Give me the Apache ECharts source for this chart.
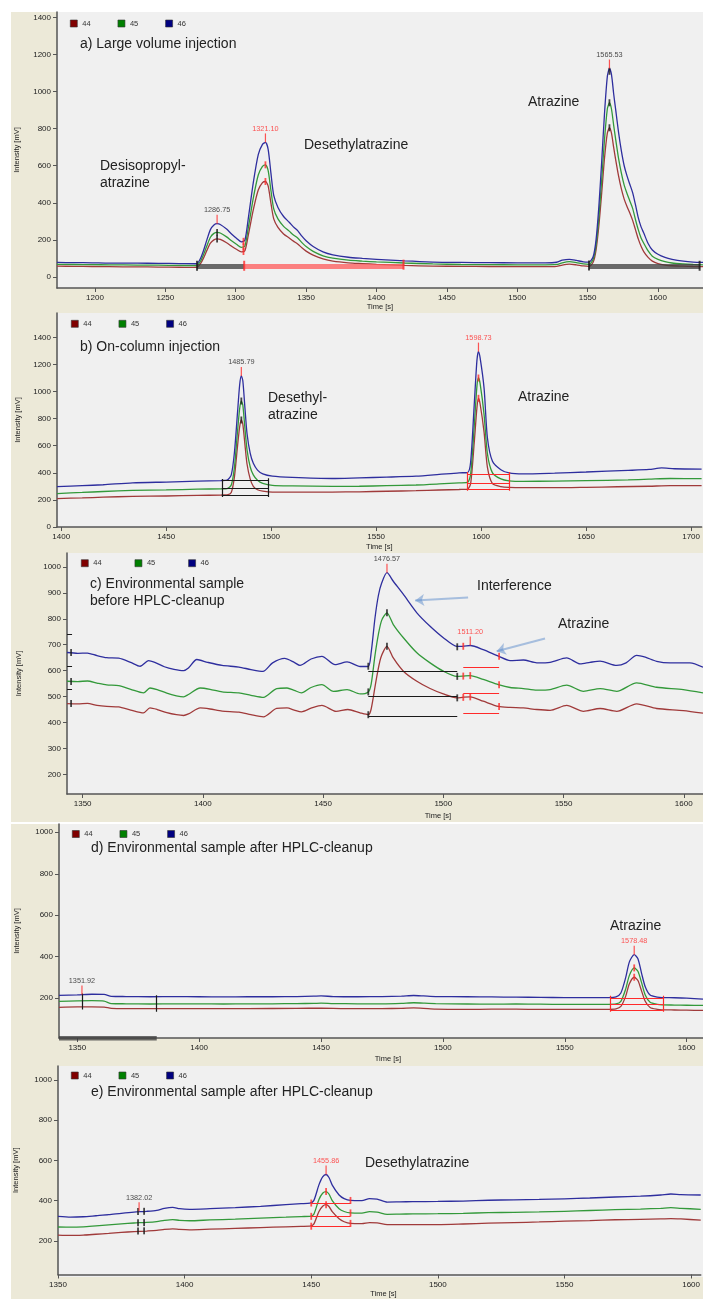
<!DOCTYPE html>
<html>
<head>
<meta charset="utf-8">
<script src="https://cdn.jsdelivr.net/npm/echarts@6/dist/echarts.min.js"></script>
<style>
html,body{margin:0;padding:0;background:#fff;}
#chart{width:703px;height:1299px;}
</style>
</head>
<body>
<div id="chart"></div>
<script>
// Ion traces m/z 44, 45, 46 (intensity in mV over retention time in s)
const channels = ['44', '45', '46'];

// ---- a) Large volume injection ----
const a46 = [[1173,78],[1185,77],[1198,76],[1210,74],[1230,74],[1245,73],[1260,72],[1270,71],[1272.5,72],[1275,100],[1277,140],[1279.5,200],[1282,255],[1284.5,280],[1286.75,287],[1289,283],[1293.5,258],[1297,232],[1300.5,209],[1304,189],[1306.5,198],[1309,320],[1312.5,510],[1316,660],[1319,715],[1321.1,726],[1323,690],[1325,560],[1327,440],[1330,375],[1334,326],[1338,295],[1341,270],[1344,250],[1347,220],[1350,195],[1355,164],[1362,135],[1369,119],[1380,106],[1390,100],[1400,95],[1420,86],[1440,80],[1460,78],[1480,77],[1500,76],[1520,76],[1528,79],[1532,90],[1537,95],[1542,89],[1547,81],[1551,80],[1554,110],[1556,200],[1558,380],[1560,620],[1562,880],[1564,1080],[1565.53,1125],[1567,1090],[1568.5,990],[1570,900],[1572,780],[1574,680],[1576,600],[1578,545],[1580,500],[1582,455],[1584,390],[1586,320],[1588,270],[1590,235],[1593,180],[1596,145],[1600,122],[1605,105],[1610,95],[1618,85],[1625,80],[1632,78]];
const a45 = [[1173,68],[1185,67],[1198,66],[1210,65],[1230,64],[1245,63],[1260,62],[1270,61],[1272.5,62],[1275,85],[1277,118],[1279.5,168],[1282,214],[1284.5,235],[1286.75,240],[1289,237],[1293.5,216],[1297,195],[1300.5,176],[1304,159],[1306.5,167],[1309,268],[1312.5,426],[1316,550],[1319,596],[1321.1,605],[1323,575],[1325,467],[1327,367],[1330,313],[1334,273],[1338,247],[1341,226],[1344,210],[1347,185],[1350,164],[1355,138],[1362,114],[1369,101],[1380,90],[1390,85],[1400,81],[1420,75],[1440,70],[1460,67],[1480,66],[1500,65],[1520,65],[1528,67],[1532,76],[1537,82],[1542,77],[1547,70],[1551,68],[1554,95],[1556,170],[1558,320],[1560,520],[1562,740],[1564,905],[1565.53,940],[1567,905],[1568.5,820],[1570,740],[1572,640],[1574,560],[1576,495],[1578,450],[1580,410],[1582,370],[1584,310],[1586,255],[1588,210],[1590,180],[1593,140],[1596,112],[1600,95],[1605,82],[1610,75],[1618,70],[1625,67],[1632,65]];
const a44 = [[1173,58],[1185,57],[1198,56],[1210,55],[1230,54],[1245,53],[1260,52],[1270,51],[1272.5,52],[1275,72],[1277,100],[1279.5,143],[1282,182],[1284.5,200],[1286.75,205],[1289,202],[1293.5,184],[1297,166],[1300.5,149],[1304,135],[1306.5,141],[1309,228],[1312.5,363],[1316,469],[1319,509],[1321.1,515],[1323,491],[1325,398],[1327,313],[1330,267],[1334,232],[1338,210],[1341,193],[1344,178],[1347,157],[1350,139],[1355,117],[1362,97],[1369,85],[1380,76],[1390,72],[1400,68],[1420,62],[1440,58],[1460,57],[1480,56],[1500,55],[1520,55],[1528,57],[1532,64],[1537,69],[1542,65],[1547,59],[1551,57],[1554,80],[1556,145],[1558,275],[1560,450],[1562,640],[1564,775],[1565.53,805],[1567,775],[1568.5,700],[1570,630],[1572,545],[1574,475],[1576,420],[1578,380],[1580,345],[1582,305],[1584,255],[1586,205],[1588,165],[1590,135],[1593,105],[1596,85],[1600,72],[1605,64],[1610,60],[1618,58],[1625,56],[1632,55]];
const aPeaks = [[1286.75,287],[1321.10,726],[1565.53,1125]];
const aBarsBlack = [[[1272.5,58],[1306,58]],[[1551,58],[1630,58]]];
const aBarsRed = [[[1306,58],[1419.2,58]]];
const aTicksBlack = [[1286.75,240],[1286.75,205],[1565.53,940],[1565.53,805],[1565.53,1110]];
const aTicksRed = [[1305.5,192],[1305.5,162],[1305.5,137],[1321.1,605],[1321.1,515]];
const aBaseBlack = [[1272.5,60],[1551,62],[1629.6,60]];
const aBaseRed = [[1306,60],[1419.2,66]];
const aTicksX = [1200,1250,1300,1350,1400,1450,1500,1550,1600];
const aTicksY = [0,200,400,600,800,1000,1200,1400];

// ---- b) On-column injection ----
const b46 = [[1398,298],[1410,305],[1420,312],[1434,326],[1450,332],[1465,338],[1476,343],[1479,346],[1481,385],[1482.5,550],[1484,850],[1485,1050],[1485.79,1115],[1486.5,1080],[1487.5,880],[1488.5,690],[1490,545],[1491.5,470],[1493.5,420],[1496,392],[1500.6,375],[1510,366],[1529,358],[1542,363],[1555,368],[1569,375],[1580,388],[1589.5,400],[1593.5,402],[1595,480],[1596.7,900],[1598,1230],[1598.73,1295],[1599.5,1250],[1601.4,1025],[1603,657],[1605.4,485],[1609.4,423],[1613.3,399],[1620,392],[1635,398],[1650,406],[1670,418],[1680,425],[1686,436],[1692,430],[1705,428]];
const b45 = [[1398,247],[1410,255],[1420,262],[1434,270],[1450,274],[1465,279],[1476,282],[1479,284],[1481,310],[1482.5,440],[1484,710],[1485,875],[1485.79,930],[1486.5,900],[1487.5,730],[1488.5,570],[1490,445],[1491.5,385],[1493.5,345],[1496,322],[1500.6,307],[1510,303],[1529,300],[1542,301],[1555,305],[1569,310],[1580,318],[1589.5,326],[1593.5,329],[1595,390],[1596.7,740],[1598,1040],[1598.73,1100],[1599.5,1060],[1601.4,830],[1603,540],[1605.4,400],[1609.4,355],[1613.3,341],[1620,337],[1635,339],[1650,342],[1670,348],[1680,353],[1690,358],[1705,357]];
const b44 = [[1398,210],[1410,215],[1420,220],[1434,226],[1450,229],[1465,233],[1476,236],[1479,238],[1481,255],[1482.5,370],[1484,600],[1485,740],[1485.79,790],[1486.5,760],[1487.5,610],[1488.5,465],[1490,355],[1491.5,300],[1493.5,275],[1496,265],[1500.6,258],[1510,258],[1529,258],[1542,260],[1555,264],[1569,268],[1580,273],[1589.5,277],[1593.5,280],[1595,320],[1596.7,620],[1598,880],[1598.73,950],[1599.5,910],[1601.4,700],[1603,440],[1605.4,320],[1609.4,298],[1613.3,292],[1620,290],[1635,290],[1650,293],[1665,297],[1680,301],[1690,305],[1705,305]];
const bPeaks = [[1485.79,1115],[1598.73,1295]];
const bSegBlack = [[[1476.5,343],[1498.7,343]],[[1476.5,284],[1498.7,284]],[[1476.5,234],[1498.7,234]],[[1476.5,222],[1476.5,355]],[[1498.7,222],[1498.7,360]]];
const bSegRed = [[[1593.5,392],[1613.3,392]],[[1593.5,320],[1613.3,320]],[[1593.5,281],[1613.3,281]],[[1593.5,268],[1593.5,406]],[[1613.3,268],[1613.3,406]]];
const bTicksBlack = [[1485.79,930],[1485.79,790]];
const bTicksRed = [[1598.73,1100],[1598.73,950]];
const bTicksX = [1400,1450,1500,1550,1600,1650,1700];
const bTicksY = [0,200,400,600,800,1000,1200,1400];

// ---- c) Environmental sample before HPLC-cleanup ----
const c46 = [[1343.5,670],[1348,667],[1352,668],[1356,658],[1360,650],[1365,648],[1370,632],[1373.9,617],[1377.4,639],[1380,632],[1384,615],[1388,605],[1392,600],[1394,610],[1397.5,643],[1402,632],[1408,620],[1415,614],[1420,604],[1425,597],[1429,630],[1434,647],[1438,632],[1440.4,620],[1445,645],[1449.5,655],[1455,623],[1460,634],[1465.4,616],[1468.8,616],[1470,670],[1471.6,804],[1473,890],[1474.4,939],[1476.57,978],[1479.2,945],[1483.4,894],[1489,823],[1494.5,771],[1500,727],[1505.6,694],[1508,694],[1511.2,697],[1516.6,681],[1522.9,656],[1527.8,639],[1533.3,641],[1538.9,630],[1544.4,632],[1551.3,649],[1556.9,626],[1561,632],[1565.2,637],[1572.1,620],[1576,630],[1580.4,659],[1584,652],[1588.7,636],[1594.3,630],[1602.6,630],[1608,613]];
const c45 = [[1343.5,559],[1348,558],[1352,560],[1356,552],[1360,545],[1365,542],[1370,528],[1375.3,514],[1378,533],[1381,527],[1385,513],[1389,503],[1392,499],[1394,508],[1398.9,533],[1403,528],[1408,518],[1415,514],[1420,505],[1425.2,497],[1430.7,531],[1435,533],[1438,524],[1441,514],[1445,535],[1449.5,546],[1454.3,520],[1460,527],[1465.4,510],[1468.8,518],[1470,548],[1471.6,660],[1473,740],[1474.4,795],[1476.57,823],[1479.2,778],[1483.4,727],[1489,669],[1494.5,630],[1500,598],[1505.6,578],[1508,579],[1511.2,581],[1516.6,566],[1522.9,546],[1527.8,535],[1533.3,531],[1538.9,525],[1544.4,527],[1551.3,544],[1558.3,520],[1565.2,531],[1572.1,520],[1580.4,553],[1588.7,536],[1599.8,527],[1608,514]];
const c44 = [[1343.5,473],[1348,472],[1352,474],[1356,466],[1360,462],[1365,460],[1370,448],[1375.3,437],[1378,456],[1381,450],[1385,438],[1389,430],[1392,427],[1394,433],[1398.9,456],[1403,452],[1408,444],[1415,440],[1420,430],[1425.2,422],[1430.7,454],[1435,456],[1438,448],[1441,441],[1445,455],[1449.5,466],[1455.4,443],[1460.3,450],[1465.4,437],[1468.8,430],[1470,452],[1472,560],[1474,650],[1476.57,694],[1479.2,649],[1483.4,598],[1489,559],[1494.5,531],[1500,510],[1505.6,495],[1508,497],[1511.2,499],[1516.6,482],[1522.9,462],[1527.8,458],[1533.3,456],[1538.9,450],[1544.4,447],[1551.3,466],[1558.3,443],[1565.2,454],[1572.1,443],[1580.4,472],[1588.7,454],[1599.8,446],[1608,436]];
const cPeaks = [[1476.57,978],[1511.20,697]];
const cSegBlack = [[[1468.8,596],[1505.8,596]],[[1468.8,500],[1505.8,500]],[[1468.8,424],[1505.8,424]],[[1343.5,742],[1345.6,742]],[[1343.5,617],[1345.6,617]],[[1343.5,527],[1345.6,527]]];
const cSegRed = [[[1508.3,613],[1523.2,613]],[[1508.3,514],[1523.2,514]],[[1508.3,437],[1523.2,437]]];
const cTicksBlack = [[1345.2,670],[1345.2,558],[1345.2,473],[1468.8,617],[1468.8,518],[1468.8,430],[1476.57,823],[1476.57,694],[1505.8,692],[1505.8,578],[1505.8,495]];
const cTicksRed = [[1508.3,694],[1508.3,579],[1508.3,497],[1511.2,581],[1511.2,499],[1523.2,656],[1523.2,546],[1523.2,462]];
const cArrows = [[[1510.3,882],[1488.3,871]],[[1542.3,724],[1522.2,675]]];
const cTicksX = [1350,1400,1450,1500,1550,1600];
const cTicksY = [200,300,400,500,600,700,800,900,1000];

// ---- d) Environmental sample after HPLC-cleanup (atrazine) ----
const d46 = [[1342.5,214],[1350,216],[1356,219],[1361,218],[1364,209],[1370,208],[1380,207],[1390,208],[1400,207],[1410,206],[1420,207],[1430,207],[1440,208],[1447,210],[1450,211],[1455,208],[1465,207],[1475,208],[1483,210],[1488,213],[1492,211],[1497,208],[1510,207],[1520,206],[1530,205],[1540,204],[1550,203],[1560,203],[1568,203],[1571,206],[1573,225],[1575,300],[1576.5,375],[1578.48,410],[1580,390],[1581.5,320],[1583,255],[1585,215],[1588,205],[1590,203],[1595,202],[1600,200],[1606.7,195]];
const d45 = [[1342.5,185],[1350,187],[1356,188],[1361,186],[1364,174],[1370,173],[1380,172],[1390,173],[1400,173],[1410,172],[1420,173],[1430,173],[1440,174],[1447,175],[1450,176],[1455,174],[1465,173],[1475,173],[1483,175],[1488,178],[1492,176],[1497,174],[1510,172],[1520,171],[1530,172],[1540,171],[1550,170],[1560,170],[1568,170],[1571,172],[1573,185],[1575,245],[1576.5,310],[1578.48,346],[1580,330],[1581.5,275],[1583,215],[1585,180],[1588,170],[1590,168],[1595,167],[1600,166],[1606.7,165]];
const d44 = [[1342.5,156],[1350,158],[1356,158],[1361,157],[1364,151],[1370,150],[1380,150],[1390,150],[1400,150],[1420,150],[1440,151],[1450,152],[1460,150],[1475,150],[1483,151],[1488,153],[1492,151],[1497,147],[1510,146],[1520,147],[1530,147],[1540,146],[1550,146],[1560,146],[1568,146],[1571,148],[1573,160],[1575,210],[1576.5,270],[1578.48,301],[1580,285],[1581.5,235],[1583,185],[1585,155],[1588,146],[1590,144],[1595,143],[1600,142],[1606.7,141]];
const dPeaks = [[1351.92,218],[1578.48,410]];
const dSegBlack = [[[1351.9,145],[1351.9,222]],[[1382.6,135],[1382.6,214]]];
const dBarsBlack = [[[1342.5,8],[1382.6,8]]];
const dSegRed = [[[1568.6,202],[1590.2,202]],[[1568.6,170],[1590.2,170]],[[1568.6,144],[1590.2,144]],[[1568.6,135],[1568.6,212]],[[1590.2,135],[1590.2,212]]];
const dTicksRed = [[1578.48,346],[1578.48,301]];
const dTicksX = [1350,1400,1450,1500,1550,1600];
const dTicksY = [200,400,600,800,1000];

// ---- e) Environmental sample after HPLC-cleanup (desethylatrazine) ----
const e46 = [[1350,322],[1355,318],[1360,320],[1365,325],[1370,330],[1375,337],[1380,343],[1385,347],[1389,352],[1392,362],[1395.3,367],[1398,360],[1402,357],[1410,360],[1420,365],[1430,372],[1440,380],[1446,385],[1449.5,388],[1451,400],[1453,477],[1454.5,518],[1455.86,530],[1457,515],[1458.3,477],[1461,428],[1463,410],[1465.5,401],[1470,400],[1473,410],[1476,408],[1480,393],[1485,394],[1490,395],[1500,396],[1510,398],[1520,402],[1530,404],[1540,406],[1550,409],[1560,413],[1570,418],[1580,422],[1588,428],[1592,433],[1596,430],[1603.8,428]];
const e45 = [[1350,269],[1355,268],[1360,270],[1365,275],[1370,280],[1375,285],[1380,289],[1385,292],[1389,296],[1392,302],[1395.3,306],[1398,302],[1402,300],[1410,304],[1420,308],[1430,313],[1440,318],[1446,321],[1449.5,322],[1451,332],[1453,405],[1454.5,437],[1455.86,445],[1457,433],[1458.3,400],[1461,360],[1463,346],[1465.5,339],[1470,338],[1473,345],[1476,343],[1480,332],[1485,333],[1490,334],[1500,335],[1510,337],[1520,340],[1530,342],[1540,344],[1550,347],[1560,351],[1570,355],[1580,358],[1588,362],[1592,365],[1596,362],[1603.8,357]];
const e44 = [[1350,229],[1355,227],[1360,229],[1365,233],[1370,237],[1375,242],[1380,246],[1385,249],[1389,252],[1392,257],[1395.3,260],[1398,257],[1402,255],[1410,258],[1420,262],[1430,266],[1440,270],[1446,272],[1449.5,273],[1451,283],[1453,345],[1454.5,372],[1455.86,380],[1457,371],[1458.3,345],[1461,310],[1463,295],[1465.5,287],[1470,286],[1473,291],[1476,290],[1480,281],[1485,281],[1490,281],[1500,281],[1510,284],[1520,288],[1530,291],[1540,294],[1550,298],[1560,301],[1570,305],[1580,307],[1588,309],[1592,311],[1596,309],[1603.8,303]];
const ePeaks = [[1382.02,347],[1455.86,530]];
const eSegRed = [[[1450,388],[1465.5,388]],[[1450,322],[1465.5,322]],[[1450,273],[1465.5,273]]];
const eTicksBlack = [[1381.6,346],[1384,347],[1381.6,290],[1384,291],[1381.6,249],[1384,250]];
const eTicksRed = [[1450,388],[1450,322],[1450,273],[1465.5,401],[1465.5,339],[1465.5,287],[1455.86,445],[1455.86,380]];
const eTicksX = [1350,1400,1450,1500,1550,1600];
const eTicksY = [200,400,600,800,1000];

// ---- layout and styling of the five stacked panels ----
const FONT = 'Liberation Sans, Arial, sans-serif';
const traceColors = { '44': '#A03A3A', '45': '#33993A', '46': '#2E2E9E' };
const legendColors = { '44': '#800000', '45': '#008000', '46': '#000080' };
const RED = '#FF2A2A', BLACK = '#1A1A1A';

const panels = [
  { left: 57, top: 12, width: 646, height: 276, xMin: 1173, xMax: 1632, yMin: -60, yMax: 1430,
    yGap: 36, xGap: 15, timePad: 0, legendLeft: 65, legendTop: 14.5, legendGap: 27,
    traces: [a44, a45, a46], ticksX: aTicksX, ticksY: aTicksY,
    peaks: aPeaks, peakColors: [BLACK, RED, BLACK],
    barsBlack: aBarsBlack, barsRed: aBarsRed, segBlack: [], segRed: [],
    ticksBlack: aTicksBlack, ticksRed: aTicksRed, baseBlack: aBaseBlack, baseRed: aBaseRed, arrows: [] },
  { left: 57, top: 313, width: 646, height: 214, xMin: 1398, xMax: 1705, yMin: 0, yMax: 1580,
    yGap: 35, xGap: 15.5, timePad: 0, legendLeft: 66, legendTop: 314.8, legendGap: 27,
    traces: [b44, b45, b46], ticksX: bTicksX, ticksY: bTicksY,
    peaks: bPeaks, peakColors: [BLACK, RED],
    barsBlack: [], barsRed: [], segBlack: bSegBlack, segRed: bSegRed,
    ticksBlack: bTicksBlack, ticksRed: bTicksRed, baseBlack: [], baseRed: [], arrows: [] },
  { left: 67, top: 553, width: 636, height: 241, xMin: 1343.5, xMax: 1608, yMin: 124, yMax: 1054,
    yGap: 44, xGap: 18, timePad: 106, legendLeft: 76, legendTop: 554.2, legendGap: 33,
    traces: [c44, c45, c46], ticksX: cTicksX, ticksY: cTicksY,
    peaks: cPeaks, peakColors: [BLACK, RED],
    barsBlack: [], barsRed: [], segBlack: cSegBlack, segRed: cSegRed,
    ticksBlack: cTicksBlack, ticksRed: cTicksRed, baseBlack: [], baseRed: [], arrows: cArrows },
  { left: 59, top: 824, width: 644, height: 214, xMin: 1342.5, xMax: 1606.7, yMin: 8, yMax: 1040,
    yGap: 38, xGap: 16.5, timePad: 14, legendLeft: 67, legendTop: 825, legendGap: 27,
    traces: [d44, d45, d46], ticksX: dTicksX, ticksY: dTicksY,
    peaks: dPeaks, peakColors: [BLACK, RED],
    barsBlack: dBarsBlack, barsRed: [], segBlack: dSegBlack, segRed: dSegRed,
    ticksBlack: [], ticksRed: dTicksRed, baseBlack: [], baseRed: [], arrows: [] },
  { left: 58, top: 1066, width: 645, height: 211, xMin: 1350, xMax: 1603.8, yMin: 33, yMax: 1069,
    yGap: 38, xGap: 15.5, timePad: 8, legendLeft: 66, legendTop: 1066.5, legendGap: 27,
    traces: [e44, e45, e46], ticksX: eTicksX, ticksY: eTicksY,
    peaks: ePeaks, peakColors: [BLACK, RED],
    barsBlack: [], barsRed: [], segBlack: [], segRed: eSegRed,
    ticksBlack: eTicksBlack, ticksRed: eTicksRed, baseBlack: [], baseRed: [], arrows: [] }
];

// free-standing annotation text (pixel anchored, left edge / vertical centre)
const notes = [
  ['a) Large volume injection', 80, 44],
  ['Desisopropyl-', 100, 166], ['atrazine', 100, 183],
  ['Desethylatrazine', 304, 145],
  ['Atrazine', 528, 102],
  ['b) On-column injection', 80, 347],
  ['Desethyl-', 268, 398], ['atrazine', 268, 415],
  ['Atrazine', 518, 397],
  ['c) Environmental sample', 90, 584], ['before HPLC-cleanup', 90, 601],
  ['Interference', 477, 586],
  ['Atrazine', 558, 624],
  ['d) Environmental sample after HPLC-cleanup', 91, 848],
  ['Atrazine', 610, 926],
  ['e) Environmental sample after HPLC-cleanup', 91, 1092],
  ['Desethylatrazine', 365, 1163]
];

const grids = [], xAxes = [], yAxes = [], legends = [], series = [];
const graphics = [
  { type: 'rect', shape: { x: 11, y: 12, width: 692, height: 810 }, style: { fill: '#ECE9D8' }, z: -20, silent: true },
  { type: 'rect', shape: { x: 11, y: 824, width: 692, height: 475 }, style: { fill: '#ECE9D8' }, z: -20, silent: true }
];

const axisLbl = { fontFamily: FONT, fontSize: 8, color: '#222', formatter: v => String(v) };

panels.forEach((p, i) => {
  grids.push({ left: p.left, top: p.top, width: p.width, height: p.height, show: false, containLabel: false });
  graphics.push({ type: 'rect', shape: { x: p.left, y: p.top, width: p.width, height: p.height },
    style: { fill: '#F0F0F0' }, z: -10, silent: true });

  xAxes.push({
    type: 'value', gridIndex: i, min: p.xMin, max: p.xMax,
    name: 'Time [s]', nameLocation: 'middle', nameGap: p.xGap,
    nameTextStyle: { fontFamily: FONT, fontSize: 7.5, color: '#222', padding: [0, 0, 0, p.timePad] },
    axisLine: { show: true, onZero: false, lineStyle: { color: '#555', width: 1.5 } },
    axisTick: { show: true, length: 4, customValues: p.ticksX, lineStyle: { color: '#555' } },
    axisLabel: Object.assign({ margin: 6, customValues: p.ticksX, showMinLabel: true, showMaxLabel: true }, axisLbl),
    splitLine: { show: false }
  });
  yAxes.push({
    type: 'value', gridIndex: i, min: p.yMin, max: p.yMax,
    name: 'Intensity [mV]', nameLocation: 'middle', nameGap: p.yGap, nameRotate: 90,
    nameTextStyle: { fontFamily: FONT, fontSize: 7.5, color: '#222' },
    axisLine: { show: true, onZero: false, lineStyle: { color: '#555', width: 1.5 } },
    axisTick: { show: true, length: 4, customValues: p.ticksY, lineStyle: { color: '#555' } },
    axisLabel: Object.assign({ margin: 6, customValues: p.ticksY }, axisLbl),
    splitLine: { show: false }
  });

  legends.push({
    left: p.legendLeft, top: p.legendTop, orient: 'horizontal',
    itemWidth: 7, itemHeight: 7, itemGap: p.legendGap, icon: 'rect', selectedMode: false,
    textStyle: { fontFamily: FONT, fontSize: 7.5, color: '#333' },
    data: channels.map(ch => ({ name: ch, itemStyle: { color: legendColors[ch], borderColor: '#333', borderWidth: 0.6 } }))
  });

  // ion traces
  channels.forEach((ch, k) => {
    series.push({
      name: ch, type: 'line', xAxisIndex: i, yAxisIndex: i, data: p.traces[k],
      showSymbol: false, symbol: 'none', smooth: 0.25, silent: true, z: 3,
      lineStyle: { color: traceColors[ch], width: 1.3 },
      itemStyle: { color: legendColors[ch] }
    });
  });

  const segs = (list, color, width, opacity, z) => ({
    type: 'lines', coordinateSystem: 'cartesian2d', xAxisIndex: i, yAxisIndex: i, silent: true, z: z,
    data: list.map(c => ({ coords: c })), lineStyle: { color: color, width: width, opacity: opacity, curveness: 0 }
  });
  const ticks = (list, color, size) => ({
    type: 'scatter', xAxisIndex: i, yAxisIndex: i, data: list, symbol: 'rect', symbolSize: size,
    itemStyle: { color: color }, silent: true, z: 5
  });

  // integration baselines and peak-delimiter marks
  if (p.barsBlack.length) series.push(segs(p.barsBlack, '#3C3C3C', 5, 0.75, 4));
  if (p.barsRed.length) series.push(segs(p.barsRed, '#FF5A5A', 5, 0.75, 4));
  if (p.segBlack.length) series.push(segs(p.segBlack, BLACK, 1.2, 1, 4));
  if (p.segRed.length) series.push(segs(p.segRed, RED, 1.2, 1, 4));
  if (p.ticksBlack.length) series.push(ticks(p.ticksBlack, BLACK, [1.8, 7]));
  if (p.ticksRed.length) series.push(ticks(p.ticksRed, RED, [1.8, 7]));
  if (p.baseBlack.length) series.push(ticks(p.baseBlack, BLACK, [2, 10]));
  if (p.baseRed.length) series.push(ticks(p.baseRed, RED, [2, 10]));

  if (p.arrows.length) {
    series.push({
      type: 'lines', coordinateSystem: 'cartesian2d', xAxisIndex: i, yAxisIndex: i, silent: true, z: 6,
      symbol: ['none', 'arrow'], symbolSize: 9,
      data: p.arrows.map(c => ({ coords: c })),
      lineStyle: { color: '#5B8CCB', width: 2, curveness: 0 }
    });
  }

  // retention-time labels on the apex of each integrated peak
  series.push({
    type: 'scatter', xAxisIndex: i, yAxisIndex: i, silent: true, z: 7,
    symbol: 'rect', symbolSize: [1.2, 9], symbolOffset: [0, -4.5],
    itemStyle: { color: RED },
    data: p.peaks.map((pk, j) => ({ value: pk, label: { color: p.peakColors[j] } })),
    label: { show: true, position: 'top', distance: 1, fontFamily: FONT, fontSize: 7.3,
      formatter: d => d.value[0].toFixed(2) }
  });
});

notes.forEach(n => {
  graphics.push({ type: 'text', x: n[1], y: n[2], z: 20, silent: true,
    style: { text: n[0], fill: '#222', fontFamily: FONT, fontSize: 14, verticalAlign: 'middle' } });
});

const chart = echarts.init(document.getElementById('chart'), null, { renderer: 'canvas' });
chart.setOption({
  backgroundColor: '#FFFFFF',
  animation: false,
  grid: grids,
  xAxis: xAxes,
  yAxis: yAxes,
  legend: legends,
  graphic: { elements: graphics },
  series: series
});
</script>
</body>
</html>
